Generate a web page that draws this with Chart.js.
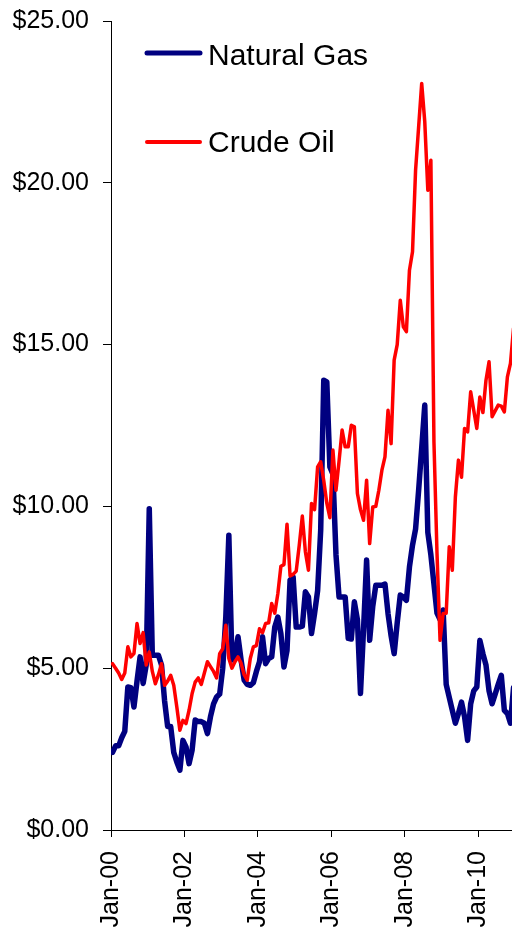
<!DOCTYPE html>
<html>
<head>
<meta charset="utf-8">
<title>Natural Gas vs Crude Oil</title>
<script src="https://cdn.jsdelivr.net/npm/chart.js@4.4.1/dist/chart.umd.min.js"></script>
<style>
  html, body { margin: 0; padding: 0; background: #fff; overflow: hidden; }
  #wrap { position: relative; width: 512px; height: 932px; }
</style>
</head>
<body>
<div id="wrap"><canvas id="priceChart"></canvas></div>
<script>
// monthly prices, $ per MMBtu, Jan-00 .. Dec-10 (one row per year)
const gasPrices = [
  2.4, 2.6, 2.6, 2.85, 3.05, 4.42, 4.4, 3.8, 4.6, 5.35, 4.53, 5.1,
  9.93, 5.4, 5.4, 5.4, 5.1, 4.0, 3.2, 3.2, 2.4, 2.1, 1.85, 2.77,
  2.57, 2.05, 2.47, 3.4, 3.35, 3.35, 3.3, 2.98, 3.5, 3.9, 4.11, 4.2,
  5.0, 6.58, 9.11, 5.25, 5.4, 5.97, 5.25, 4.63, 4.5, 4.47, 4.55, 4.9,
  5.2, 5.97, 5.14, 5.3, 5.35, 6.27, 6.58, 6.07, 5.04, 5.55, 7.72, 7.82,
  6.27, 6.27, 6.3, 7.36, 7.2, 6.07, 6.69, 7.4, 9.26, 13.9, 13.85, 11.22,
  11.0, 8.5, 7.2, 7.2, 7.2, 5.92, 5.9, 7.05, 6.5, 4.22, 6.2, 8.34,
  5.86, 6.9, 7.56, 7.56, 7.56, 7.6, 6.69, 6.0, 5.45, 6.4, 7.26, 7.2,
  7.1, 8.13, 8.8, 9.3, 10.5, 11.8, 13.13, 9.2, 8.5, 7.6, 6.7, 6.5,
  6.8, 4.5, 4.1, 3.7, 3.3, 3.6, 3.95, 3.5, 2.77, 3.9, 4.3, 4.42,
  5.86, 5.45, 5.1, 4.3, 3.9, 4.2, 4.5, 4.78, 3.7, 3.6, 3.3, 4.4
];

const oilPrices = [
  5.14, 5.0, 4.85, 4.65, 4.85, 5.66, 5.35, 5.45, 6.38, 5.76, 6.1, 5.1,
  5.5, 4.9, 4.52, 4.8, 5.14, 4.47, 4.6, 4.78, 4.47, 3.8, 3.08, 3.39,
  3.29, 3.7, 4.22, 4.57, 4.7, 4.5, 4.85, 5.2, 5.05, 4.9, 4.7, 5.45,
  5.6, 6.33, 5.3, 5.0, 5.2, 5.35, 5.15, 4.8, 4.63, 5.3, 5.66, 5.7,
  6.22, 6.1, 6.38, 6.4, 7.0, 6.7, 7.3, 8.15, 8.2, 9.45, 7.85, 7.9,
  8.0, 8.8, 9.7, 8.6, 8.03, 10.09, 9.9, 11.22, 11.38, 10.8, 10.1, 9.65,
  11.74, 10.5, 11.4, 12.36, 11.84, 11.84, 12.51, 12.46, 10.4, 9.9, 9.57, 10.81,
  8.85, 9.98, 10.0, 10.5, 11.12, 11.53, 12.97, 11.94, 14.52, 15.0, 16.37, 15.55,
  15.4, 17.3, 17.87, 20.39, 21.73, 23.07, 21.89, 19.77, 20.7, 12.0, 8.55, 5.86,
  6.69, 6.7, 8.75, 8.03, 10.29, 11.43, 10.9, 12.41, 12.3, 13.54, 12.97, 12.41,
  13.38, 12.9, 13.9, 14.47, 12.77, 12.95, 13.13, 13.1, 12.92, 14.0, 14.42, 15.5
];

const seriesNames = ['Natural Gas', 'Crude Oil'];
const tickLabels = ['Jan-00', 'Jan-02', 'Jan-04', 'Jan-06', 'Jan-08', 'Jan-10'];
const monthsPerTick = 24;
const yTicks = { min: 0, max: 25, step: 5 };

const FONT = "'Liberation Sans', Arial, sans-serif";

// points sit in the middle of their month
function toPoints(values) {
  return values.map((v, i) => ({ x: i + 0.5, y: v }));
}

// no extra room for overhanging tick labels: the plot runs to the edge
function noOverhang(scale) {
  scale.paddingTop = 0;
  scale.paddingBottom = 0;
  scale.paddingLeft = 0;
  scale.paddingRight = 0;
}

// legend drawn inside the plot, top left
const insideLegend = {
  id: 'insideLegend',
  afterDatasetsDraw(chart, args, opts) {
    const ctx = chart.ctx;
    ctx.save();
    ctx.font = opts.font;
    ctx.textBaseline = 'alphabetic';
    ctx.fillStyle = '#000';
    chart.data.datasets.forEach((ds, i) => {
      const y = opts.lineY[i];
      ctx.strokeStyle = ds.borderColor;
      ctx.lineWidth = opts.lineWidth[i];
      ctx.lineCap = 'round';
      ctx.beginPath();
      ctx.moveTo(opts.x, y);
      ctx.lineTo(opts.x + opts.len, y);
      ctx.stroke();
      ctx.fillText(ds.label, opts.textX, opts.textY[i]);
    });
    ctx.restore();
  }
};

const ctx = document.getElementById('priceChart').getContext('2d');

new Chart(ctx, {
  type: 'line',
  data: {
    datasets: [
      {
        label: seriesNames[0],
        data: toPoints(gasPrices),
        borderColor: '#000080',
        borderWidth: 5.5,
        order: 1
      },
      {
        label: seriesNames[1],
        data: toPoints(oilPrices),
        borderColor: '#ff0000',
        borderWidth: 3.5,
        order: 0
      }
    ]
  },
  options: {
    responsive: true,
    maintainAspectRatio: false,
    animation: false,
    layout: { padding: { top: 21, right: 0, bottom: 0, left: 0 } },
    elements: {
      point: { radius: 0 },
      line: { tension: 0, borderJoinStyle: 'round', borderCapStyle: 'round' }
    },
    plugins: {
      legend: { display: false },
      tooltip: { enabled: false },
      insideLegend: {
        font: `30px ${FONT}`,
        x: 147,
        len: 53,
        textX: 208,
        lineY: [53, 142],
        textY: [65, 152],
        lineWidth: [5, 4]
      }
    },
    scales: {
      x: {
        type: 'linear',
        min: 0,
        max: 131,
        afterFit: s => { s.height = 102; noOverhang(s); },
        ticks: {
          stepSize: monthsPerTick,
          includeBounds: false,
          autoSkip: false,
          minRotation: 90,
          maxRotation: 90,
          padding: 14,
          color: '#000',
          font: { family: FONT, size: 25 },
          callback: v => tickLabels[v / monthsPerTick] ?? ''
        },
        grid: { drawOnChartArea: false, tickLength: 7, color: '#000' },
        border: { color: '#000', width: 1 }
      },
      y: {
        min: yTicks.min,
        max: yTicks.max,
        afterFit: s => { s.width = 111; noOverhang(s); },
        ticks: {
          stepSize: yTicks.step,
          padding: 14,
          color: '#000',
          font: { family: FONT, size: 25 },
          callback: v => '$' + v.toFixed(2)
        },
        grid: { drawOnChartArea: false, tickLength: 8, color: '#000' },
        border: { color: '#000', width: 1 }
      }
    }
  },
  plugins: [insideLegend]
});
</script>
</body>
</html>
